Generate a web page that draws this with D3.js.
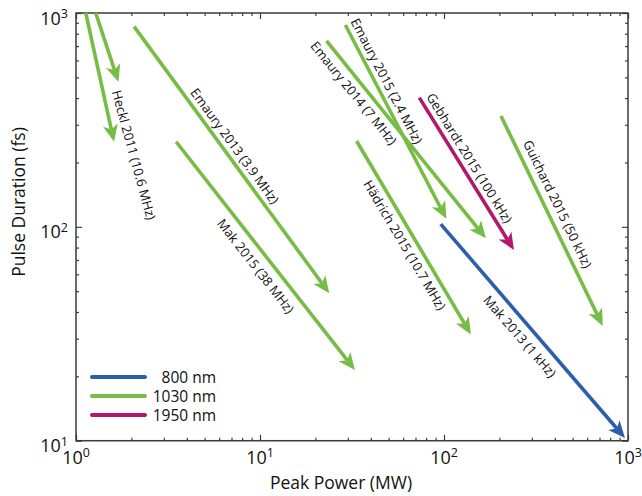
<!DOCTYPE html>
<html><head><meta charset="utf-8">
<script src="https://cdn.jsdelivr.net/npm/d3@7"></script>
<style>
body{margin:0;background:#fff;}
svg{display:block;font-family:"Open Sans",sans-serif;}
</style></head>
<body>
<svg id="chart" width="642" height="496"></svg>
<script>
// ---- data ----
const wavelengths = ["800 nm", "1030 nm", "1950 nm"];
const wavelengthColors = ["#2b5fae", "#77bd45", "#b3186c"];

// arrows: [wavelength, startPower(MW), startDuration(fs), endPower(MW), endDuration(fs)]
const arrowNames  = ["Heckl 2011 a", "Heckl 2011 b", "Emaury 2013", "Mak 2015", "Emaury 2014", "Emaury 2015", "Gebhardt 2015", "Guichard 2015", "Hädrich 2015", "Mak 2013"];
const arrowWl     = ["1030 nm", "1030 nm", "1030 nm", "1030 nm", "1030 nm", "1030 nm", "1950 nm", "1030 nm", "1030 nm", "800 nm"];
const startPower  = [1.13, 1.28, 2.07, 3.50, 23.0, 29.1, 73.4, 204, 33.5, 96];
const startDur    = [1000, 1000, 863, 250, 740, 879, 402, 330, 252, 103];
const endPower    = [1.61, 1.70, 23.8, 32.8, 169, 103, 240, 729, 140, 963];
const endDur      = [250, 477, 48.9, 21.4, 88.4, 109, 77.9, 34.4, 31.4, 10.3];

// labels: text, centre power, centre duration, arrows whose direction sets the angle
const labelTexts  = ["Heckl 2011 (10.6 MHz)", "Emaury 2013 (3.9 MHz)", "Mak 2015 (38 MHz)", "Emaury 2014 (7 MHz)", "Emaury 2015 (2.4 MHz)", "Gebhardt  2015 (100 kHz)", "Guichard 2015 (50 kHz)", "Hädrich 2015 (10.7 MHz)", "Mak 2013 (1 kHz)"];
const labelPower  = [2.07, 7.32, 9.51, 32.4, 49.0, 138, 416, 61.4, 259];
const labelDur    = [217, 239, 65.6, 423, 481, 210, 128, 82.2, 30.8];
const labelArrows = [[0,1], [2], [3], [4], [5], [6], [7], [8], [9]];

const xTickValues = [1, 10, 100, 1000];
const xTickExp    = ["0", "1", "2", "3"];
const yTickValues = [10, 100, 1000];
const yTickExp    = ["1", "2", "3"];
const xTitle = "Peak Power (MW)";
const yTitle = "Pulse Duration (fs)";

// ---- chart ----
const svg = d3.select("#chart");
const L = 76, R = 628, T = 13, B = 440.7;
const x = d3.scaleLog().domain([1, 1000]).range([L, R]);
const y = d3.scaleLog().domain([10, 1000]).range([B, T]);
const color = d3.scaleOrdinal().domain(wavelengths).range(wavelengthColors);

const minorX = [];
for (let d = 1; d < 1000; d *= 10) for (let k = 2; k <= 9; k++) minorX.push(d * k);
const minorY = [];
for (let d = 10; d < 1000; d *= 10) for (let k = 2; k <= 9; k++) minorY.push(d * k);

const axisColor = "#3a3a3a";
function styleAxis(g) {
  g.select(".domain").remove();
  g.selectAll(".tick line").attr("stroke", axisColor).attr("stroke-width", 1.2);
  g.selectAll(".tick text").remove();
}
// bottom / top
svg.append("g").attr("transform", `translate(0,${B})`).call(d3.axisBottom(x).tickValues(xTickValues).tickSize(-6)).call(styleAxis);
svg.append("g").attr("transform", `translate(0,${B})`).call(d3.axisBottom(x).tickValues(minorX).tickSize(-3)).call(styleAxis);
svg.append("g").attr("transform", `translate(0,${T})`).call(d3.axisTop(x).tickValues(xTickValues).tickSize(-6)).call(styleAxis);
svg.append("g").attr("transform", `translate(0,${T})`).call(d3.axisTop(x).tickValues(minorX).tickSize(-3)).call(styleAxis);
// left / right
svg.append("g").attr("transform", `translate(${L},0)`).call(d3.axisLeft(y).tickValues(yTickValues).tickSize(-6)).call(styleAxis);
svg.append("g").attr("transform", `translate(${L},0)`).call(d3.axisLeft(y).tickValues(minorY).tickSize(-3)).call(styleAxis);
svg.append("g").attr("transform", `translate(${R},0)`).call(d3.axisRight(y).tickValues(yTickValues).tickSize(-6)).call(styleAxis);
svg.append("g").attr("transform", `translate(${R},0)`).call(d3.axisRight(y).tickValues(minorY).tickSize(-3)).call(styleAxis);

svg.append("rect").attr("x", L).attr("y", T).attr("width", R - L).attr("height", B - T)
  .attr("fill", "none").attr("stroke", axisColor).attr("stroke-width", 1.5);

// tick labels
xTickValues.forEach((v, i) => {
  const t = svg.append("text").attr("x", x(v)).attr("y", B + 23).attr("text-anchor", "middle")
    .attr("font-size", 18).attr("fill", "#111");
  t.append("tspan").text("10");
  t.append("tspan").attr("dy", -6.5).attr("font-size", 12.5).text(xTickExp[i]);
});
yTickValues.forEach((v, i) => {
  const t = svg.append("text").attr("x", L - 8).attr("y", y(v) + 11.5).attr("text-anchor", "end")
    .attr("font-size", 18).attr("fill", "#111");
  t.append("tspan").text("10");
  t.append("tspan").attr("dy", -6.5).attr("font-size", 12.5).text(yTickExp[i]);
});

// titles
svg.append("text").attr("x", 341).attr("y", 489).attr("text-anchor", "middle")
  .attr("font-size", 17.5).attr("fill", "#111").text(xTitle);
svg.append("text").attr("transform", `translate(25,${202}) rotate(-90)`).attr("text-anchor", "middle")
  .attr("font-size", 17.5).attr("fill", "#111").text(yTitle);

// arrows
const plot = svg.append("g");
const headLen = 17, headHalf = 7.5, notch = 4.5;
arrowNames.forEach((name, i) => {
  const x0 = x(startPower[i]), y0 = y(startDur[i]);
  const x1 = x(endPower[i]), y1 = y(endDur[i]);
  const ang = Math.atan2(y1 - y0, x1 - x0);
  const c = Math.cos(ang), s = Math.sin(ang);
  const col = color(arrowWl[i]);
  const bx = x1 - headLen * c, by = y1 - headLen * s;
  const nx = x1 - (headLen - notch) * c, ny = y1 - (headLen - notch) * s;
  plot.append("line").attr("x1", x0).attr("y1", y0).attr("x2", nx).attr("y2", ny)
    .attr("stroke", col).attr("stroke-width", 3.6);
  const pts = [[x1, y1], [bx - headHalf * s, by + headHalf * c], [nx, ny], [bx + headHalf * s, by - headHalf * c]];
  plot.append("path").attr("d", d3.line()(pts) + "Z").attr("fill", col);
});

// labels
labelTexts.forEach((txt, i) => {
  const angs = labelArrows[i].map(j => {
    return Math.atan2(y(endDur[j]) - y(startDur[j]), x(endPower[j]) - x(startPower[j])) * 180 / Math.PI;
  });
  const a = d3.mean(angs);
  svg.append("text").attr("transform", `translate(${x(labelPower[i])},${y(labelDur[i])}) rotate(${a})`)
    .attr("text-anchor", "middle").attr("dominant-baseline", "central")
    .attr("font-size", 13).attr("fill", "#111").text(txt);
});

// legend
wavelengths.forEach((w, i) => {
  const ly = 377 + i * 19;
  svg.append("line").attr("x1", 92).attr("x2", 145).attr("y1", ly).attr("y2", ly)
    .attr("stroke", color(w)).attr("stroke-width", 4).attr("stroke-linecap", "round");
  svg.append("text").attr("x", 216).attr("y", ly + 5.5).attr("text-anchor", "end")
    .attr("font-size", 15.5).attr("fill", "#111").text(w);
});
</script>
</body></html>
